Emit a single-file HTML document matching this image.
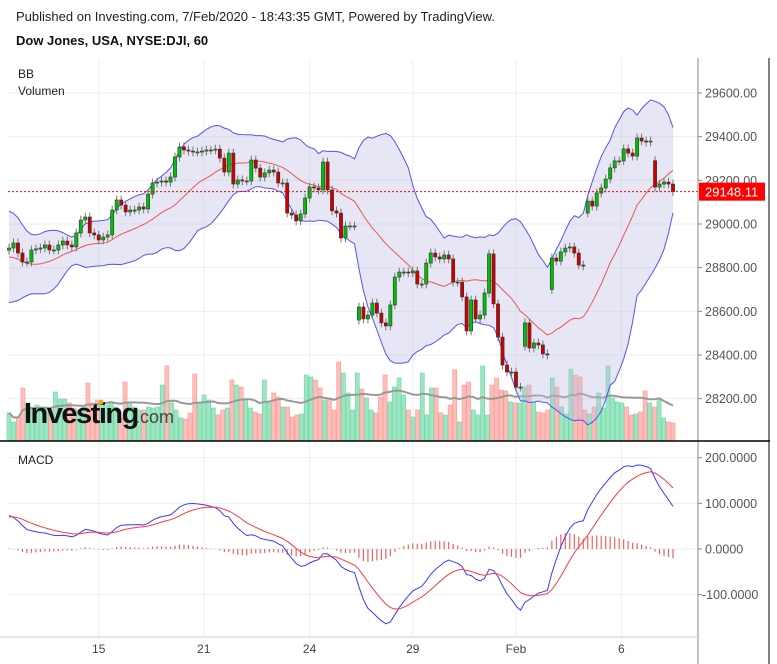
<!DOCTYPE html>
<html><head><meta charset="utf-8"><style>
body{margin:0;background:#fff;width:777px;height:664px;overflow:hidden;font-family:"Liberation Sans",sans-serif}
svg{display:block}
</style></head><body>
<svg id="c" width="777" height="664" xmlns="http://www.w3.org/2000/svg">
<text x="16" y="21" font-size="13" fill="#222">Published on Investing.com, 7/Feb/2020 - 18:43:35 GMT, Powered by TradingView.</text>
<text x="16" y="45" font-size="13" font-weight="bold" fill="#111">Dow Jones, USA, NYSE:DJI, 60</text>
<g id="grid"></g>
<g id="vol"></g>
<g id="bb"></g>
<g id="candles"></g>
<g id="macd"></g>
<g id="axes"></g>
<g>
<text x="24" y="423" font-size="29" font-weight="bold" fill="#111" letter-spacing="-1.5">Investing</text>
<text x="135" y="423" font-size="18" fill="#444">.com</text>
<circle cx="101" cy="402" r="2.5" fill="#f5a623"/>
</g>
<text x="18" y="78" font-size="12" fill="#222">BB</text>
<text x="18" y="95" font-size="12" fill="#222">Volumen</text>
<text x="18" y="464" font-size="12" fill="#222">MACD</text>
</svg>
<script>
const history = [28980,29010,29030,29000,28960,28900,28850,28800,28760,28720,28700,28690,28720,28760,28800,28820,28850,28870,28880];
const closes = [28890,28913,28867,28826,28826,28881,28886,28890,28904,28881,28881,28904,28922,28904,28895,28959,29018,29032,28959,28950,28927,28940,28950,29064,29110,29087,29055,29064,29064,29078,29069,29137,29188,29192,29197,29192,29215,29307,29353,29339,29334,29330,
29330,29334,29339,29339,29343,29302,29238,29325,29183,29202,29197,29197,29293,29256,29215,29234,29247,29238,29188,29188,29050,29041,29014,29046,29119,29170,29165,29156,29284,29156,29060,29050,28936,28991,28991,28991,
28620,28565,28583,28638,28592,28547,28533,28629,28757,28780,28780,28776,28785,28725,28725,28821,28867,28849,28840,28858,28840,28734,28734,28666,28510,28652,28565,28583,28684,28863,28634,28482,28354,28322,28322,28253,28253,
28547,28432,28455,28446,28405,28400,28844,28830,28872,28890,28895,28867,28812,28808,29105,29082,29142,29165,29206,29257,29289,29289,29344,29325,29311,29394,29380,29376,29380,29169,29183,29192,29183,29148];
const gapIdx = [23,78,115,121,129,144];
const gapOpens = [28950,28560,28440,28700,29050,29290];
const volumes = [28,19,24,53,38,34,36,34,33,31,49,42,42,38,33,31,34,58,38,41,38,36,39,34,23,59,38,34,31,31,34,33,34,56,75,38,31,23,22,28,67,39,46,41,33,26,31,33,61,56,54,41,33,29,27,61,38,48,44,34,34,24,26,27,66,64,61,53,41,43,31,79,68,48,31,
68,52,43,31,28,44,66,39,54,63,46,31,24,31,68,26,53,53,28,26,36,71,19,56,59,31,26,75,26,56,63,51,50,39,38,38,54,56,39,29,28,31,63,54,34,27,72,66,64,31,27,34,48,33,75,43,39,38,34,26,27,29,50,38,34,43,23,19,18];
const macdSeed = [28900, 28820, 70];
const priceTicks = [29600,29400,29200,29000,28800,28600,28400,28200];
const macdTicks = [200,100,0,-100];
const dayLabels = ["15","21","24","29","Feb","6"];
const dayIdx = [20,43.4,67,90,113,136.5];
const lastPrice = 29148.11;

const NS="http://www.w3.org/2000/svg";
function mk(tag,attrs,parent){const e=document.createElementNS(NS,tag);for(const k in attrs)e.setAttribute(k,attrs[k]);parent.appendChild(e);return e;}
const n=closes.length;
const X0=9,X1=673;
const xAt=i=>X0+i*(X1-X0)/(n-1);
const yP=p=>93+(29600-p)*0.21833;
const yM=v=>549-v*0.4567;
const G=document.getElementById('grid'),A=document.getElementById('axes');

priceTicks.forEach(t=>{const l=mk('line',{x1:8,x2:698,y1:yP(t),y2:yP(t),stroke:'#eeeeee'},G);

});
macdTicks.forEach(t=>{const l=mk('line',{x1:8,x2:698,y1:yM(t),y2:yM(t),stroke:'#eeeeee'},G);

});
dayIdx.forEach((d,k)=>{const x=xAt(d);
const l=mk('line',{x1:x,x2:x,y1:60,y2:637,stroke:'#eeeeee'},G);


const t=mk('text',{x:x,y:653,'font-size':12,fill:'#444','text-anchor':'middle'},A);t.textContent=dayLabels[k];

});

const opens=closes.map((c,i)=>{const g=gapIdx.indexOf(i);if(g>=0)return gapOpens[g];return i===0?history[history.length-1]:closes[i-1];});

const V=document.getElementById('vol');
const nv=volumes.length,vw=(X1-X0)/(nv-1);
volumes.forEach((v,i)=>{const ci=Math.round(i*(n-1)/(nv-1));const up=closes[ci]>=opens[ci];
const x=X0+i*vw;
const r=mk('rect',{x:x-vw/2+0.3,y:441-v,width:vw-0.6,height:v,fill:up?'#9ce6c2':'#ffbcb8',stroke:up?'#6fd6a4':'#f59c96','stroke-width':0.6},V);

});
let vp='';volumes.forEach((v,i)=>{const s=volumes.slice(Math.max(0,i-19),i+1);const m=s.reduce((a,b)=>a+b,0)/s.length;vp+=(i?'L':'M')+(X0+i*vw).toFixed(1)+','+(441-m).toFixed(1);});
const vma=mk('path',{d:vp,fill:'none',stroke:'#999',"stroke-width":2},V);



const all=history.concat(closes);const H=history.length;
const mid=[],up=[],lo=[];
for(let i=0;i<n;i++){const s=all.slice(Math.max(0,H+i-19),H+i+1);const m=s.reduce((a,b)=>a+b,0)/s.length;const sd=Math.sqrt(s.reduce((a,b)=>a+(b-m)*(b-m),0)/s.length);mid.push(m);up.push(m+2*sd);lo.push(m-2*sd);}
const B=document.getElementById('bb');
const pth=a=>a.map((v,i)=>(i?'L':'M')+xAt(i).toFixed(1)+','+yP(v).toFixed(1)).join('');
let fd=pth(up);for(let i=n-1;i>=0;i--)fd+='L'+xAt(i).toFixed(1)+','+yP(lo[i]).toFixed(1);fd+='Z';
const fill=mk('path',{d:fd,fill:'rgba(190,190,225,0.38)'},B);


const bu=mk('path',{d:pth(up),fill:'none',stroke:'#5555ee','stroke-width':1},B);


const bl=mk('path',{d:pth(lo),fill:'none',stroke:'#5555ee','stroke-width':1},B);


const bm=mk('path',{d:pth(mid),fill:'none',stroke:'#ee5555','stroke-width':1},B);



const C=document.getElementById('candles');
closes.forEach((c,i)=>{const o=opens[i];const x=xAt(i);const hi=Math.max(o,c)+20,lw=Math.min(o,c)-20;
const w=mk('line',{x1:x,x2:x,y1:yP(hi),y2:yP(lw),stroke:'#777'},C);


const t=yP(Math.max(o,c)),b=yP(Math.min(o,c));
const r=mk('rect',{x:x-1.6,y:t,width:3.2,height:Math.max(1,b-t),fill:c>=o?'#00c000':'#cc0000',stroke:'#333','stroke-width':0.6},C);

});

const lp=mk('line',{x1:8,x2:698,y1:yP(lastPrice),y2:yP(lastPrice),stroke:'#ff0000','stroke-dasharray':'2,2'},C);



let e12=macdSeed[0],e26=macdSeed[1],sig=macdSeed[2];const md=[],sg=[];
closes.forEach(c=>{e12+=(c-e12)*2/13;e26+=(c-e26)*2/27;const m=e12-e26;sig+=(m-sig)*2/10;md.push(m);sg.push(sig);});
const M=document.getElementById('macd');
md.forEach((m,i)=>{const h=(m-sg[i])*0.5;const r=mk('line',{x1:xAt(i),x2:xAt(i),y1:yM(0),y2:yM(h),stroke:'#f06060','stroke-width':1.2},M);

});
const mp=a=>a.map((v,i)=>(i?'L':'M')+xAt(i).toFixed(1)+','+yM(v).toFixed(1)).join('');
const ml=mk('path',{d:mp(md),fill:'none',stroke:'#3a3aff','stroke-width':1},M);


const sl=mk('path',{d:mp(sg),fill:'none',stroke:'#ff3a3a','stroke-width':1},M);



mk('line',{x1:698,x2:698,y1:58,y2:664,stroke:'#888'},A);
mk('line',{x1:769,x2:769,y1:58,y2:664,stroke:'#000'},A);
mk('line',{x1:0,x2:770,y1:441,y2:441,stroke:'#000','stroke-width':1.5},A);
mk('line',{x1:0,x2:698,y1:637,y2:637,stroke:'#ccc'},A);
priceTicks.forEach(t=>{const y=yP(t);mk('line',{x1:698,x2:702,y1:y,y2:y,stroke:'#888'},A);
const tx=mk('text',{x:705,y:y+4.5,'font-size':12.5,fill:'#555'},A);tx.textContent=t.toFixed(2);

});
macdTicks.forEach(t=>{const y=yM(t);mk('line',{x1:698,x2:702,y1:y,y2:y,stroke:'#888'},A);
const tx=mk('text',{x:t<0?702:705,y:y+4.5,'font-size':12.5,fill:'#555'},A);tx.textContent=t.toFixed(4);

});
const ly=yP(lastPrice);
const bx=mk('rect',{x:699,y:ly-9,width:66,height:18,fill:'#ff0000'},A);


const bt=mk('text',{x:705,y:ly+5,'font-size':13,fill:'#fff'},A);bt.textContent=lastPrice.toFixed(2);


</script>
</body></html>
